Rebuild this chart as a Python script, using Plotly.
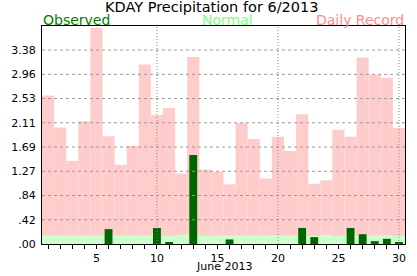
import plotly.graph_objects as go

days = list(range(1, 31))
record = [2.59, 2.03, 1.45, 2.14, 3.77, 1.88, 1.38, 1.71, 3.13, 2.25,
          2.37, 1.23, 3.26, 1.30, 1.26, 1.04, 2.11, 1.83, 1.14, 1.87,
          1.62, 2.26, 1.05, 1.11, 1.99, 1.87, 3.25, 2.95, 2.90, 2.02]
normal = [0.15, 0.15, 0.15, 0.15, 0.15, 0.15, 0.15, 0.15, 0.15, 0.15,
          0.14, 0.16, 0.16, 0.14, 0.15, 0.15, 0.15, 0.15, 0.15, 0.15,
          0.15, 0.14, 0.14, 0.16, 0.14, 0.15, 0.15, 0.15, 0.15, 0.14]
observed = [0, 0, 0, 0, 0, 0.26, 0, 0, 0, 0.28,
            0.035, 0, 1.55, 0, 0, 0.08, 0, 0, 0, 0,
            0, 0.28, 0.12, 0, 0, 0.28, 0.17, 0.05, 0.09, 0.035]

y_ticks = [0, 0.4225, 0.845, 1.2675, 1.69, 2.1125, 2.535, 2.9575, 3.38]
y_labels = [".00", ".42", ".84", "1.27", "1.69", "2.11", "2.53", "2.96", "3.38"]
x_label_days = [5, 10, 15, 20, 25, 30]
grid_days = [10, 20, 30]

FONT = "DejaVu Sans"
W, H = 417, 276
ML, MR, MT, MB = 36, 11, 26, 30
PH = H - MT - MB

fig = go.Figure()
fig.add_trace(go.Bar(x=days, y=record, width=1, marker=dict(color="#FFCCCC", line=dict(width=0)), name="Daily Record"))
fig.add_trace(go.Bar(x=days, y=normal, width=1, marker=dict(color="#CCFFCC", line=dict(width=0)), name="Normal"))
fig.add_trace(go.Bar(x=days, y=observed, width=0.65, marker=dict(color="#006600", line=dict(width=0)), name="Observed"))

shapes = []
for v in y_ticks[1:]:
    shapes.append(dict(type="line", xref="paper", x0=0, x1=1, yref="y", y0=v, y1=v,
                       line=dict(color="#999999", width=1, dash="3px,3px"), layer="above"))
for d in grid_days:
    shapes.append(dict(type="line", xref="x", x0=d, x1=d, yref="paper", y0=0, y1=1,
                       line=dict(color="#888888", width=1, dash="1px,2px"), layer="above"))

def py(pix):
    return 1 + (MT - pix) / PH

annotations = [
    dict(text="KDAY Precipitation for 6/2013", xref="paper", x=(W / 2 - ML) / (W - ML - MR), yref="paper",
         y=py(7), xanchor="center", yanchor="middle", showarrow=False, borderpad=0,
         font=dict(family=FONT, size=14.5, color="#000000")),
    dict(text="Observed", xref="paper", x=0, yref="paper", y=py(20), xanchor="left", yanchor="middle",
         showarrow=False, borderpad=0, font=dict(family=FONT, size=14, color="#008000")),
    dict(text="Normal", xref="paper", x=(225 - ML) / (W - ML - MR), yref="paper", y=py(20), xanchor="center",
         yanchor="middle", showarrow=False, borderpad=0, font=dict(family=FONT, size=14, color="#80FF80")),
    dict(text="Daily Record", xref="paper", x=1, yref="paper", y=py(20), xanchor="right", yanchor="middle",
         showarrow=False, borderpad=0, font=dict(family=FONT, size=14, color="#FF8C8C")),
    dict(text="June 2013", xref="paper", x=0.5, yref="paper", y=py(269), xanchor="center", yanchor="middle",
         showarrow=False, borderpad=0, font=dict(family=FONT, size=11, color="#000000")),
]

fig.update_layout(
    width=W, height=H,
    margin=dict(l=ML, r=MR, t=MT, b=MB, pad=0),
    paper_bgcolor="white", plot_bgcolor="white",
    barmode="overlay", showlegend=False,
    font=dict(family=FONT, size=11, color="#000000"),
    shapes=shapes, annotations=annotations,
    xaxis=dict(range=[0.5, 30.5], tickmode="array", tickvals=x_label_days, ticks="outside", ticklen=4,
               tickcolor="black", tickfont=dict(family=FONT, size=11),
               minor=dict(tickmode="array", tickvals=days, ticks="outside", ticklen=4, tickcolor="black", showgrid=False),
               showgrid=False, zeroline=False, showline=True, linecolor="black", linewidth=1, mirror=True),
    yaxis=dict(range=[0, 3.8], tickmode="array", tickvals=y_ticks, ticktext=y_labels, ticks="",
               tickfont=dict(family=FONT, size=11), showgrid=False, zeroline=False,
               showline=True, linecolor="black", linewidth=1, mirror=True, ticklabelstandoff=3),
)

fig.write_html("out.html")
